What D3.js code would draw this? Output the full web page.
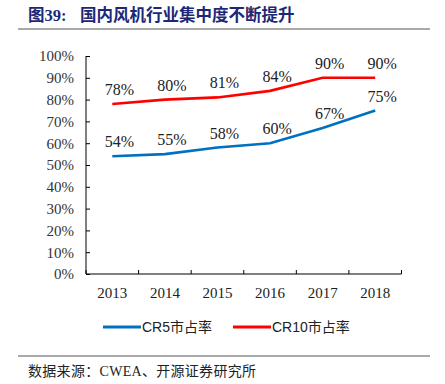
<!DOCTYPE html>
<html>
<head>
<meta charset="utf-8">
<script src="https://cdn.jsdelivr.net/npm/d3@7"></script>
<style>
	body { margin: 0; background: #fff; }
	svg { display: block; }
</style>
</head>
<body>
<div class="chart"></div>
<script>
	// data
	var years = ["2013", "2014", "2015", "2016", "2017", "2018"];
	var cr5 = [54, 55, 58, 60, 67, 75];
	var cr10 = [78, 80, 81, 84, 90, 90];
	var yTicks = [0, 10, 20, 30, 40, 50, 60, 70, 80, 90, 100];
	var seriesNames = ["CR5市占率", "CR10市占率"];

	var width = 445,
		height = 384;
	var plot = {left: 86, right: 401.5, top: 56, bottom: 274};
	var serif = "'Liberation Serif', 'Times New Roman', 'Noto Sans CJK SC', serif";
	var colors = ["#0070C0", "#FF0000"];

	var svg = d3.select(".chart").append("svg")
		.attr("width", width)
		.attr("height", height);

	// title + rules
	svg.append("text")
		.attr("x", 28)
		.attr("y", 21)
		.attr("fill", "#1C2877")
		.attr("font-family", serif)
		.attr("font-weight", "bold")
		.attr("font-size", 16.5)
		.text("图39:");

	svg.append("text")
		.attr("x", 80)
		.attr("y", 21)
		.attr("fill", "#1C2877")
		.attr("font-family", serif)
		.attr("font-weight", "bold")
		.attr("font-size", 16.5)
		.text("国内风机行业集中度不断提升");

	svg.append("line")
		.attr("x1", 18).attr("x2", 430)
		.attr("y1", 29).attr("y2", 29)
		.attr("stroke", "#8c8c8c")
		.attr("stroke-width", 1.5);

	svg.append("line")
		.attr("x1", 18).attr("x2", 430)
		.attr("y1", 356).attr("y2", 356)
		.attr("stroke", "#8c8c8c")
		.attr("stroke-width", 1.5);

	svg.append("text")
		.attr("x", 28)
		.attr("y", 376)
		.attr("fill", "#222")
		.attr("font-family", serif)
		.attr("font-size", 14)
		.attr("letter-spacing", 0.3)
		.text("数据来源：CWEA、开源证券研究所");

	// scales
	var x = d3.scaleBand()
		.domain(years)
		.range([plot.left, plot.right]);

	var y = d3.scaleLinear()
		.domain([0, 100])
		.range([plot.bottom, plot.top]);

	// y axis (ticks inward)
	var yAxis = svg.append("g")
		.attr("transform", "translate(" + plot.left + ",0)")
		.call(d3.axisLeft(y).tickValues(yTicks).tickSize(-4).tickPadding(12)
			.tickFormat(function(d) { return d + "%"; }));

	yAxis.select(".domain").attr("d", "M0," + plot.top + "V" + plot.bottom).attr("stroke", "#000");
	yAxis.selectAll("line").attr("stroke", "#000");
	yAxis.selectAll("text")
		.attr("font-family", serif)
		.attr("font-size", 15)
		.attr("fill", "#333");

	// x axis, ticks on band boundaries pointing up
	var xAxis = svg.append("g")
		.attr("transform", "translate(0," + plot.bottom + ")");

	xAxis.append("line")
		.attr("x1", plot.left).attr("x2", plot.right)
		.attr("stroke", "#000");

	var bounds = years.map(function(d) { return x(d); }).concat([plot.right]);
	xAxis.selectAll(".tick")
		.data(bounds)
		.enter().append("line")
		.attr("x1", function(d) { return d; })
		.attr("x2", function(d) { return d; })
		.attr("y1", 0).attr("y2", -4)
		.attr("stroke", "#000");

	xAxis.selectAll(".year")
		.data(years)
		.enter().append("text")
		.attr("x", function(d) { return x(d) + x.bandwidth() / 2; })
		.attr("y", 24)
		.attr("text-anchor", "middle")
		.attr("font-family", serif)
		.attr("font-size", 15)
		.attr("fill", "#222")
		.text(function(d) { return d; });

	// lines and labels
	var line = d3.line()
		.x(function(d, i) { return x(years[i]) + x.bandwidth() / 2; })
		.y(function(d) { return y(d); });

	[cr5, cr10].forEach(function(series, k) {
		svg.append("path")
			.datum(series)
			.attr("d", line)
			.attr("fill", "none")
			.attr("stroke", colors[k])
			.attr("stroke-width", 2.6);

		svg.selectAll(".lbl" + k)
			.data(series)
			.enter().append("text")
			.attr("x", function(d, i) { return x(years[i]) + x.bandwidth() / 2 + 7; })
			.attr("y", function(d) { return y(d) - 9; })
			.attr("text-anchor", "middle")
			.attr("font-family", serif)
			.attr("font-size", 16)
			.attr("fill", "#222")
			.text(function(d) { return d + "%"; });
	});

	// legend
	var legendX = [103, 233];
	seriesNames.forEach(function(name, k) {
		svg.append("line")
			.attr("x1", legendX[k]).attr("x2", legendX[k] + 38)
			.attr("y1", 327).attr("y2", 327)
			.attr("stroke", colors[k])
			.attr("stroke-width", 3);

		svg.append("text")
			.attr("x", legendX[k] + 39)
			.attr("y", 332)
			.attr("font-family", "'Liberation Sans', 'Noto Sans CJK SC', sans-serif")
			.attr("font-size", 14)
			.attr("fill", "#222")
			.text(name);
	});
</script>
</body>
</html>
